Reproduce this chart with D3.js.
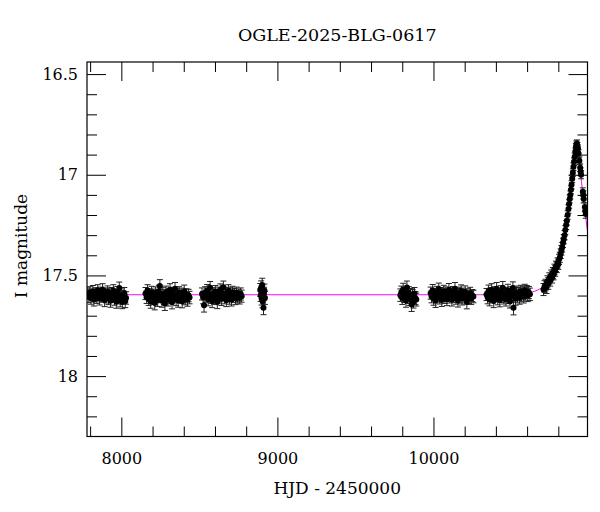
<!DOCTYPE html>
<html>
<head>
<meta charset="utf-8">
<script src="https://cdn.jsdelivr.net/npm/d3@7"></script>
<style>
  body { margin: 0; background: #fff; }
  text { font-family: "DejaVu Serif", serif; fill: #000; }
</style>
</head>
<body>
<svg id="chart" width="600" height="512"></svg>
<script>
/* global d3 */

var title = 'OGLE-2025-BLG-0617';
var xLabel = 'HJD - 2450000';
var yLabel = 'I magnitude';

var xMajor = [8000, 9000, 10000];
var xMinor = [7800, 8200, 8400, 8600, 8800, 9200, 9400, 9600, 9800, 10200, 10400, 10600, 10800];
var yMajor = [16.5, 17, 17.5, 18];
var yMinor = [16.6, 16.7, 16.8, 16.9, 17.1, 17.2, 17.3, 17.4, 17.6, 17.7, 17.8, 17.9, 18.1, 18.2];

// observations per season: [hjd, mag, err]
var season1 = [[7786,17.590,.028],[7792,17.605,.030],[7799,17.583,.027],[7805,17.612,.031],[7811,17.597,.029],[7818,17.578,.028],[7824,17.620,.032],[7830,17.601,.030],[7836,17.588,.027],[7843,17.609,.030],[7849,17.574,.028],[7855,17.595,.029],[7861,17.616,.031],[7868,17.586,.028],[7874,17.603,.030],[7880,17.571,.030],[7887,17.598,.029],[7893,17.622,.033],[7899,17.590,.028],[7905,17.607,.030],[7912,17.581,.029],[7918,17.614,.031],[7924,17.596,.030],[7931,17.626,.032],[7937,17.588,.028],[7943,17.604,.030],[7949,17.575,.029],[7956,17.617,.031],[7962,17.599,.030],[7968,17.630,.033],[7975,17.584,.029],[7981,17.611,.031],[7987,17.563,.030],[7993,17.624,.032],[8000,17.597,.030],[8006,17.632,.033],[8012,17.606,.031],[8019,17.590,.030],[8025,17.628,.032],[8030,17.612,.031]];
var season2 = [[8155,17.590,.030],[8162,17.608,.031],[8168,17.575,.029],[8175,17.617,.032],[8181,17.596,.030],[8188,17.630,.033],[8194,17.583,.029],[8201,17.612,.031],[8207,17.598,.030],[8214,17.637,.034],[8220,17.586,.029],[8227,17.605,.031],[8233,17.622,.032],[8240,17.579,.030],[8247,17.552,.031],[8253,17.600,.030],[8260,17.626,.032],[8266,17.591,.030],[8273,17.614,.031],[8279,17.640,.034],[8286,17.582,.029],[8292,17.603,.030],[8299,17.620,.032],[8305,17.594,.030],[8312,17.571,.030],[8318,17.609,.031],[8325,17.633,.033],[8331,17.588,.029],[8338,17.601,.030],[8344,17.566,.031],[8351,17.618,.032],[8357,17.597,.030],[8364,17.625,.033],[8370,17.585,.029],[8377,17.607,.031],[8383,17.593,.030],[8390,17.629,.032],[8396,17.604,.031],[8403,17.578,.030],[8410,17.615,.031],[8417,17.596,.030],[8424,17.621,.032],[8431,17.600,.031],[8437,17.610,.031]];
var season3 = [[8517,17.592,.030],[8524,17.610,.031],[8530,17.648,.034],[8537,17.585,.029],[8543,17.603,.030],[8550,17.575,.030],[8556,17.619,.032],[8563,17.596,.030],[8569,17.561,.031],[8576,17.608,.031],[8582,17.627,.033],[8589,17.590,.029],[8595,17.614,.031],[8602,17.580,.030],[8608,17.599,.030],[8615,17.632,.033],[8621,17.587,.029],[8628,17.606,.031],[8634,17.572,.030],[8641,17.617,.032],[8647,17.594,.030],[8654,17.559,.031],[8660,17.610,.031],[8667,17.588,.029],[8673,17.623,.032],[8680,17.598,.030],[8686,17.576,.030],[8693,17.612,.031],[8699,17.591,.030],[8706,17.620,.032],[8712,17.583,.029],[8719,17.604,.030],[8725,17.595,.030],[8732,17.614,.031],[8738,17.587,.029],[8745,17.606,.031],[8752,17.598,.030],[8758,17.611,.031],[8765,17.592,.030],[8771,17.603,.030]];
var season4 = [[8890,17.572,.032],[8893,17.598,.031],[8896,17.560,.033],[8899,17.615,.032],[8902,17.585,.031],[8903,17.548,.034],[8905,17.628,.033],[8908,17.605,.032],[8911,17.660,.035],[8914,17.590,.031],[8917,17.575,.032],[8920,17.612,.032]];
var season5 = [[9788,17.598,.031],[9794,17.583,.030],[9800,17.612,.032],[9806,17.570,.031],[9812,17.603,.031],[9818,17.592,.030],[9824,17.625,.033],[9830,17.560,.032],[9836,17.608,.031],[9842,17.586,.030],[9848,17.617,.032],[9854,17.596,.031],[9860,17.645,.034],[9866,17.601,.031],[9872,17.629,.033],[9878,17.590,.030],[9884,17.612,.032],[9890,17.620,.032]];
var season6 = [[9982,17.588,.030],[9988,17.605,.031],[9995,17.575,.030],[10001,17.616,.032],[10008,17.594,.030],[10014,17.626,.033],[10021,17.583,.029],[10027,17.601,.031],[10034,17.568,.030],[10040,17.611,.031],[10047,17.590,.030],[10053,17.622,.032],[10060,17.597,.030],[10066,17.579,.030],[10073,17.608,.031],[10079,17.586,.029],[10086,17.618,.032],[10092,17.599,.030],[10099,17.571,.031],[10105,17.606,.031],[10112,17.592,.030],[10118,17.620,.032],[10125,17.584,.029],[10131,17.603,.031],[10138,17.566,.031],[10144,17.612,.031],[10151,17.595,.030],[10157,17.624,.033],[10164,17.588,.030],[10170,17.607,.031],[10177,17.577,.030],[10183,17.615,.032],[10190,17.593,.030],[10196,17.602,.031],[10203,17.582,.030],[10209,17.611,.031],[10214,17.632,.034],[10221,17.596,.030],[10228,17.608,.031],[10235,17.589,.030],[10242,17.613,.031],[10249,17.600,.030],[10256,17.605,.031]];
var season7 = [[10340,17.595,.030],[10347,17.610,.031],[10353,17.578,.030],[10360,17.619,.032],[10366,17.590,.030],[10373,17.572,.031],[10379,17.605,.031],[10386,17.627,.033],[10392,17.585,.029],[10399,17.600,.030],[10405,17.566,.031],[10412,17.614,.032],[10418,17.593,.030],[10425,17.623,.033],[10431,17.581,.030],[10438,17.603,.031],[10444,17.561,.031],[10451,17.611,.031],[10457,17.589,.030],[10464,17.620,.032],[10470,17.597,.030],[10477,17.574,.030],[10483,17.608,.031],[10490,17.629,.033],[10496,17.586,.030],[10503,17.602,.031],[10509,17.563,.031],[10513,17.660,.036],[10520,17.594,.030],[10526,17.616,.032],[10533,17.583,.030],[10539,17.605,.031],[10546,17.590,.030],[10552,17.612,.031],[10559,17.579,.030],[10565,17.598,.031],[10572,17.584,.030],[10578,17.606,.031],[10585,17.574,.030],[10591,17.592,.031],[10598,17.580,.030],[10604,17.599,.031],[10611,17.585,.030],[10618,17.594,.031]];
var season8 = [[10705,17.570,.030],[10712,17.555,.029],[10718,17.548,.029],[10724,17.560,.030],[10730,17.530,.028],[10736,17.540,.029],[10742,17.515,.028],[10748,17.525,.028],[10754,17.500,.027],[10760,17.510,.028],[10765,17.488,.027],[10770,17.495,.027],[10775,17.470,.026],[10780,17.478,.026],[10785,17.455,.026],[10790,17.460,.026],[10795,17.438,.025],[10800,17.445,.025],[10805,17.420,.025],[10810,17.410,.025],[10815,17.392,.024],[10820,17.375,.024],[10825,17.360,.024],[10830,17.338,.023],[10835,17.320,.023],[10840,17.300,.023],[10845,17.275,.022],[10850,17.250,.022],[10855,17.228,.022],[10860,17.200,.021],[10865,17.170,.021],[10869,17.145,.021],[10873,17.120,.020],[10877,17.100,.020],[10881,17.075,.020],[10885,17.050,.020],[10889,17.020,.019],[10893,16.990,.019],[10897,16.960,.019],[10901,16.935,.019],[10905,16.910,.018],[10909,16.885,.018],[10913,16.862,.018],[10916,16.850,.018],[10919,16.845,.018],[10922,16.858,.018],[10926,16.870,.018],[10930,16.895,.019],[10935,16.930,.019],[10940,16.965,.019],[10943,16.985,.019],[10946,17.000,.020],[10957,17.085,.020],[10960,17.100,.020],[10963,17.120,.020],[10970,17.160,.021],[10973,17.180,.021],[10976,17.195,.021]];

// model curve
var modelT = [7780, 10300, 10450, 10550, 10620, 10680, 10737, 10770, 10795, 10820, 10849, 10865, 10884, 10899, 10910, 10918, 10926, 10937, 10952, 10971, 10990];
var modelMag = [17.596, 17.596, 17.593, 17.589, 17.584, 17.568, 17.536, 17.507, 17.470, 17.400, 17.280, 17.180, 17.060, 16.950, 16.880, 16.850, 16.880, 16.950, 17.060, 17.180, 17.300];

var svg = d3.select('#chart');
var plotLeft = 87, plotRight = 587.5, plotTop = 62, plotBottom = 436.5;

var x = d3.scaleLinear().domain([7780, 10987]).range([plotLeft, plotRight]);
var y = d3.scaleLinear().domain([16.44, 18.30]).range([plotTop, plotBottom]);

svg.append('defs').append('clipPath').attr('id', 'plot-clip')
  .append('rect')
  .attr('x', plotLeft).attr('y', plotTop)
  .attr('width', plotRight - plotLeft).attr('height', plotBottom - plotTop);

var plot = svg.append('g').attr('clip-path', 'url(#plot-clip)');

// model
var model = modelT.map((t, i) => [t, modelMag[i]]);
plot.append('path')
  .datum(model)
  .attr('fill', 'none')
  .attr('stroke', '#ff00ff')
  .attr('stroke-width', 1)
  .attr('d', d3.line().x(d => x(d[0])).y(d => y(d[1])).curve(d3.curveMonotoneX));

var points = [].concat(season1, season2, season3, season4, season5, season6, season7, season8);

// error bars
var bars = plot.append('g')
  .attr('stroke', '#222')
  .attr('stroke-width', 1);

bars.selectAll('line.bar').data(points).enter().append('line')
  .attr('class', 'bar')
  .attr('x1', d => x(d[0])).attr('x2', d => x(d[0]))
  .attr('y1', d => y(d[1] - d[2])).attr('y2', d => y(d[1] + d[2]));

bars.selectAll('line.cap-top').data(points).enter().append('line')
  .attr('class', 'cap-top')
  .attr('x1', d => x(d[0]) - 3).attr('x2', d => x(d[0]) + 3)
  .attr('y1', d => y(d[1] - d[2])).attr('y2', d => y(d[1] - d[2]));

bars.selectAll('line.cap-bot').data(points).enter().append('line')
  .attr('class', 'cap-bot')
  .attr('x1', d => x(d[0]) - 3).attr('x2', d => x(d[0]) + 3)
  .attr('y1', d => y(d[1] + d[2])).attr('y2', d => y(d[1] + d[2]));

plot.append('g').selectAll('circle').data(points).enter().append('circle')
  .attr('cx', d => x(d[0]))
  .attr('cy', d => y(d[1]))
  .attr('r', 3)
  .attr('fill', '#000');

// axes: ticks on all four sides, pointing in
function ticks(axis, values, size, labels) {
  var a = axis.tickValues(values).tickSize(-size).tickPadding(labels ? 9 : 0);
  if (!labels) a.tickFormat('');
  return a;
}

function styleAxis(g) {
  g.select('.domain').remove();
  g.selectAll('.tick line').attr('stroke', '#000');
  g.selectAll('text').attr('font-size', 16).attr('font-family', '"DejaVu Serif", serif');
}

svg.append('g').attr('transform', `translate(0,${plotBottom})`)
  .call(ticks(d3.axisBottom(x), xMajor, 19, true).tickPadding(16).tickFormat(d3.format('d'))).call(styleAxis);
svg.append('g').attr('transform', `translate(0,${plotBottom})`)
  .call(ticks(d3.axisBottom(x), xMinor, 10, false)).call(styleAxis);
svg.append('g').attr('transform', `translate(0,${plotTop})`)
  .call(ticks(d3.axisTop(x), xMajor, 19, false)).call(styleAxis);
svg.append('g').attr('transform', `translate(0,${plotTop})`)
  .call(ticks(d3.axisTop(x), xMinor, 10, false)).call(styleAxis);

svg.append('g').attr('transform', `translate(${plotLeft},0)`)
  .call(ticks(d3.axisLeft(y), yMajor, 19, true).tickFormat(d => String(d))).call(styleAxis);
svg.append('g').attr('transform', `translate(${plotLeft},0)`)
  .call(ticks(d3.axisLeft(y), yMinor, 10, false)).call(styleAxis);
svg.append('g').attr('transform', `translate(${plotRight},0)`)
  .call(ticks(d3.axisRight(y), yMajor, 19, false)).call(styleAxis);
svg.append('g').attr('transform', `translate(${plotRight},0)`)
  .call(ticks(d3.axisRight(y), yMinor, 10, false)).call(styleAxis);

// frame
svg.append('rect')
  .attr('x', plotLeft).attr('y', plotTop)
  .attr('width', plotRight - plotLeft).attr('height', plotBottom - plotTop)
  .attr('fill', 'none')
  .attr('stroke', '#000')
  .attr('stroke-width', 1.2);

svg.append('text')
  .attr('x', (plotLeft + plotRight) / 2).attr('y', 41)
  .attr('text-anchor', 'middle')
  .attr('font-size', 17.5)
  .text(title);

svg.append('text')
  .attr('x', (plotLeft + plotRight) / 2).attr('y', 494)
  .attr('text-anchor', 'middle')
  .attr('font-size', 17)
  .text(xLabel);

svg.append('text')
  .attr('transform', `translate(27,246) rotate(-90)`)
  .attr('text-anchor', 'middle')
  .attr('font-size', 17)
  .text(yLabel);
</script>
</body>
</html>
